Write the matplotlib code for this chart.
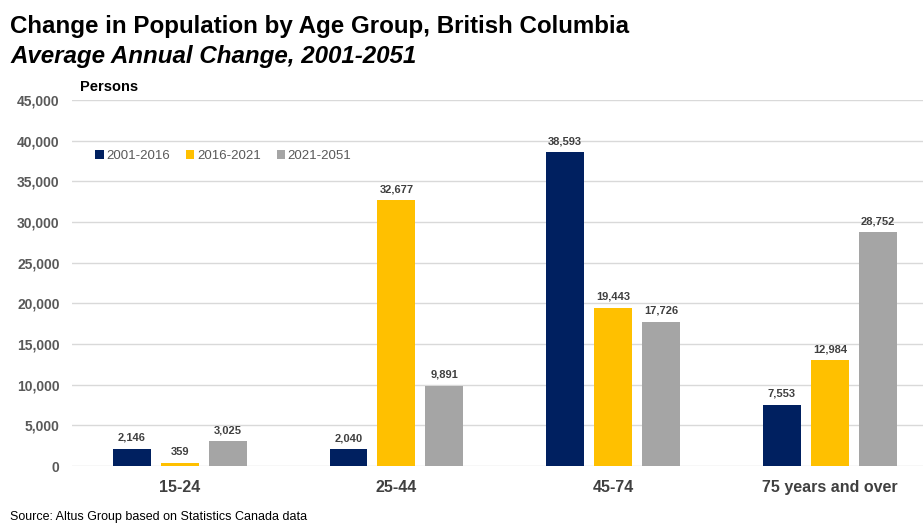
import numpy as np
import matplotlib.pyplot as plt

plt.rcParams['font.family'] = ['Liberation Sans', 'DejaVu Sans']

categories = ["15-24", "25-44", "45-74", "75 years and over"]
series_names = ["2001-2016", "2016-2021", "2021-2051"]
values = {
    "2001-2016": [2146, 2040, 38593, 7553],
    "2016-2021": [359, 32677, 19443, 12984],
    "2021-2051": [3025, 9891, 17726, 28752],
}
colors = ["#002060", "#FFC000", "#A5A5A5"]
yticks = np.arange(0, 45001, 5000)

fig = plt.figure(figsize=(9.23, 5.23), dpi=100)
ax = fig.add_axes([72 / 923, 1 - 466 / 523, 1 - 72 / 923, 366 / 523])

x = np.arange(len(categories))
width = 0.175
offset = 0.221
for i, (name, col) in enumerate(zip(series_names, colors)):
    pos = x + (i - 1) * offset
    bars = ax.bar(pos, values[name], width, color=col, label=name, zorder=3)
    for b, v in zip(bars, values[name]):
        ax.text(b.get_x() + b.get_width() / 2, v + 750, f"{v:,}",
                ha="center", va="bottom", fontsize=8, fontweight="bold",
                color="#404040")

ax.set_xlim(-0.497, 3.43)
ax.set_ylim(0, 45000)
ax.set_yticks(yticks)
ax.set_yticklabels([f"{v:,}" for v in yticks], fontsize=10, fontweight="bold",
                   color="#595959")
ax.set_xticks(x)
ax.set_xticklabels(categories, fontsize=11.5, fontweight="bold", color="#404040")
ax.tick_params(axis="both", length=0)
ax.tick_params(axis="x", pad=10)
ax.tick_params(axis="y", pad=9)
ax.grid(axis="y", color="#D9D9D9", linewidth=1, zorder=0)
for s in ax.spines.values():
    s.set_visible(False)

ax.legend(loc="upper left", bbox_to_anchor=(0.013, 0.895), ncol=3, frameon=False,
          fontsize=9.5, handlelength=0.65, handleheight=0.65, handletextpad=0.2,
          columnspacing=1.2, labelcolor="#595959")

fig.text(10 / 923, 1 - 27 / 523, "Change in Population by Age Group, British Columbia",
         fontsize=17.4, fontweight="bold", va="center", ha="left")
fig.text(10 / 923, 1 - 57 / 523, "Average Annual Change, 2001-2051",
         fontsize=17.4, fontweight="bold", fontstyle="italic", va="center", ha="left")
fig.text(80 / 923, 1 - 87 / 523, "Persons", fontsize=10.5, fontweight="bold",
         va="center", ha="left")
fig.text(10 / 923, 1 - 517 / 523, "Source: Altus Group based on Statistics Canada data",
         fontsize=9, va="center", ha="left")

fig.savefig("out.png", dpi=100)
